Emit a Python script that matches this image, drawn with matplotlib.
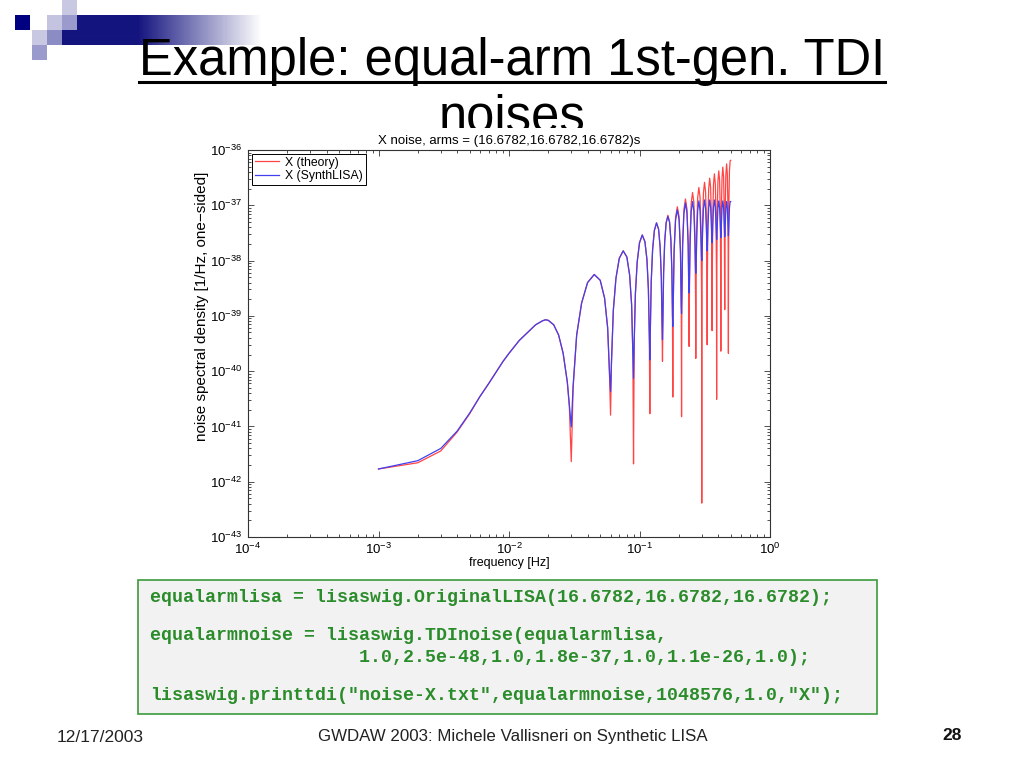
import numpy as np
import matplotlib
matplotlib.use('Agg')
from matplotlib import pyplot as plt
from matplotlib.patches import Rectangle
from matplotlib.lines import Line2D
from matplotlib.colors import LinearSegmentedColormap
from matplotlib.ticker import LogLocator, NullFormatter

plt.rcParams['font.family'] = ['Liberation Sans', 'DejaVu Sans']
plt.rcParams['mathtext.default'] = 'regular'

# values (frequency in Hz, PSD in 1/Hz)
freq_hz = [
    0.001, 0.002, 0.003, 0.004, 0.005, 0.006, 0.007, 0.008, 0.009, 0.010,
    0.012, 0.014, 0.016, 0.018, 0.019, 0.020, 0.022, 0.024, 0.026, 0.028, 0.029, 0.030,
    0.031, 0.033, 0.036, 0.040, 0.045, 0.050, 0.054, 0.057, 0.059, 0.060,
    0.061, 0.063, 0.066, 0.070, 0.075, 0.080, 0.084, 0.087, 0.089, 0.090,
    0.091, 0.093, 0.096, 0.100, 0.105, 0.110, 0.114, 0.117, 0.119, 0.120,
    0.121, 0.123, 0.126, 0.130, 0.135, 0.140, 0.144, 0.147, 0.149, 0.150,
    0.151, 0.153, 0.156, 0.160, 0.165, 0.170, 0.174, 0.177, 0.179, 0.180,
    0.181, 0.184, 0.189, 0.195, 0.201, 0.206, 0.209, 0.210,
    0.211, 0.214, 0.219, 0.225, 0.231, 0.236, 0.239, 0.240,
    0.241, 0.244, 0.249, 0.255, 0.261, 0.266, 0.269, 0.270,
    0.271, 0.274, 0.279, 0.285, 0.291, 0.296, 0.299, 0.300,
    0.301, 0.304, 0.309, 0.315, 0.321, 0.326, 0.329, 0.330,
    0.331, 0.334, 0.339, 0.345, 0.351, 0.356, 0.359, 0.360,
    0.361, 0.364, 0.369, 0.375, 0.381, 0.386, 0.389, 0.390,
    0.391, 0.394, 0.399, 0.405, 0.411, 0.416, 0.419, 0.420,
    0.421, 0.424, 0.429, 0.435, 0.441, 0.446, 0.449, 0.450,
    0.451, 0.454, 0.459, 0.465, 0.471, 0.476, 0.479, 0.480,
    0.481, 0.484, 0.489, 0.495, 0.500,
]

x_theory = [
    1.7e-42, 2.2e-42, 3.6e-42, 7.9e-42, 1.7e-41, 3.5e-41, 6.0e-41, 9.8e-41, 1.5e-40, 2.1e-40,
    3.6e-40, 5.1e-40, 6.9e-40, 8.1e-40, 8.5e-40, 8.3e-40, 6.9e-40, 4.5e-40, 2.1e-40, 6.2e-41, 2.3e-41, 2.3e-42,
    5.0e-41, 4.5e-40, 1.7e-39, 4.0e-39, 5.6e-39, 4.4e-39, 2.1e-39, 6.1e-40, 7.4e-41, 1.6e-41,
    1.4e-40, 1.25e-39, 4.8e-39, 1.1e-38, 1.5e-38, 1.16e-38, 5.5e-39, 1.6e-39, 1.85e-40, 2.1e-42,
    2.8e-40, 2.5e-39, 9.4e-39, 2.1e-38, 2.9e-38, 2.2e-38, 1.05e-38, 3.0e-39, 3.5e-40, 1.7e-41,
    4.8e-40, 4.2e-39, 1.57e-38, 3.5e-38, 4.8e-38, 3.7e-38, 1.74e-38, 4.9e-39, 5.8e-40, 1.5e-40,
    6.5e-40, 5.8e-39, 2.2e-38, 4.85e-38, 6.6e-38, 5.05e-38, 2.37e-38, 6.6e-39, 7.8e-40, 3.4e-41,
    1.0e-39, 1.5e-38, 6.1e-38, 9.4e-38, 6.3e-38, 1.6e-38, 1.1e-39, 1.5e-41,
    1.4e-39, 2.1e-38, 8.4e-38, 1.3e-37, 8.6e-38, 2.2e-38, 1.5e-39, 2.8e-40,
    1.8e-39, 2.7e-38, 1.1e-37, 1.7e-37, 1.13e-37, 2.9e-38, 1.95e-39, 1.7e-40,
    2.2e-39, 3.4e-38, 1.35e-37, 2.1e-37, 1.4e-37, 3.6e-38, 2.4e-39, 4.1e-43,
    2.8e-39, 4.2e-38, 1.68e-37, 2.6e-37, 1.73e-37, 4.4e-38, 2.95e-39, 3.0e-40,
    3.3e-39, 5.0e-38, 2.0e-37, 3.1e-37, 2.05e-37, 5.2e-38, 3.5e-39, 5.4e-40,
    3.9e-39, 6.0e-38, 2.4e-37, 3.7e-37, 2.45e-37, 6.2e-38, 4.2e-39, 3.1e-41,
    4.5e-39, 6.8e-38, 2.7e-37, 4.2e-37, 2.8e-37, 7.1e-38, 4.7e-39, 2.3e-40,
    5.2e-39, 7.9e-38, 3.15e-37, 4.9e-37, 3.25e-37, 8.3e-38, 5.5e-39, 1.3e-39,
    6.0e-39, 9.0e-38, 3.6e-37, 5.6e-37, 3.7e-37, 9.5e-38, 6.3e-39, 2.1e-40,
    6.9e-39, 1.05e-37, 4.2e-37, 6.4e-37, 6.5e-37,
]

x_synthlisa = [
    1.7e-42, 2.4e-42, 4.0e-42, 8.2e-42, 1.75e-41, 3.5e-41, 6.0e-41, 9.8e-41, 1.5e-40, 2.1e-40,
    3.6e-40, 5.1e-40, 6.9e-40, 8.1e-40, 8.5e-40, 8.3e-40, 6.9e-40, 4.5e-40, 2.1e-40, 6.3e-41, 2.5e-41, 9.8e-42,
    5.5e-41, 4.5e-40, 1.7e-39, 4.0e-39, 5.6e-39, 4.4e-39, 2.1e-39, 6.1e-40, 9.0e-41, 4.3e-41,
    1.5e-40, 1.25e-39, 4.8e-39, 1.1e-38, 1.5e-38, 1.16e-38, 5.5e-39, 1.6e-39, 2.0e-40, 7.4e-41,
    3.3e-40, 2.5e-39, 9.4e-39, 2.1e-38, 2.9e-38, 2.2e-38, 1.05e-38, 3.0e-39, 4.2e-40, 1.6e-40,
    5.5e-40, 4.2e-39, 1.57e-38, 3.5e-38, 4.8e-38, 3.7e-38, 1.74e-38, 4.9e-39, 7.0e-40, 3.7e-40,
    8.5e-40, 5.9e-39, 2.2e-38, 4.8e-38, 6.3e-38, 4.9e-38, 2.3e-38, 6.6e-39, 1.0e-39, 6.4e-40,
    1.3e-39, 1.35e-38, 5.4e-38, 8.3e-38, 5.5e-38, 1.4e-38, 1.5e-39, 1.1e-39,
    2.0e-39, 1.8e-38, 7.1e-38, 1.1e-37, 7.3e-38, 1.9e-38, 3.0e-39, 2.6e-39,
    3.5e-39, 1.9e-38, 7.7e-38, 1.17e-37, 7.8e-38, 2.1e-38, 6.5e-39, 5.9e-39,
    7.0e-39, 2.2e-38, 7.9e-38, 1.2e-37, 8.0e-38, 2.3e-38, 1.1e-38, 1.0e-38,
    1.1e-38, 3.1e-38, 8.6e-38, 1.25e-37, 8.8e-38, 3.4e-38, 1.65e-38, 1.5e-38,
    1.7e-38, 3.6e-38, 8.9e-38, 1.25e-37, 9.0e-38, 3.9e-38, 2.3e-38, 2.1e-38,
    2.3e-38, 4.1e-38, 9.1e-38, 1.25e-37, 9.2e-38, 4.3e-38, 2.6e-38, 2.4e-38,
    2.6e-38, 4.2e-38, 8.8e-38, 1.2e-37, 8.9e-38, 4.4e-38, 2.8e-38, 2.6e-38,
    2.8e-38, 4.4e-38, 8.9e-38, 1.2e-37, 9.0e-38, 4.5e-38, 2.9e-38, 2.7e-38,
    2.9e-38, 4.5e-38, 8.8e-38, 1.17e-37, 8.9e-38, 4.6e-38, 3.0e-38, 2.8e-38,
    3.0e-38, 4.6e-38, 8.9e-38, 1.17e-37, 1.17e-37,
]

series_labels = ['X (theory)', 'X (SynthLISA)']

code_lines = [
    'equalarmlisa = lisaswig.OriginalLISA(16.6782,16.6782,16.6782);',
    'equalarmnoise = lisaswig.TDInoise(equalarmlisa,',
    '                   1.0,2.5e-48,1.0,1.8e-37,1.0,1.1e-26,1.0);',
    'lisaswig.printtdi("noise-X.txt",equalarmnoise,1048576,1.0,"X");',
]
code_rows_px = [598, 636, 657, 695]


W, H = 1024, 768
def fx(x):
    return x / W
def fy(y):
    return 1 - y / H

fig = plt.figure(figsize=(10.24, 7.68), dpi=100)
fig.patch.set_facecolor('white')

# slide decoration top-left: navy bar fading out to the right
navy = '#14147f'
bar = fig.add_axes([fx(62), fy(45), fx(200), 30 / H])
cm = LinearSegmentedColormap.from_list('bar', [(0, navy), (0.38, navy), (1, '#ffffff')])
bar.imshow(np.linspace(0, 1, 300)[None, :], aspect='auto', cmap=cm, extent=[0, 1, 0, 1])
bar.axis('off')

squares = [
    (15, 15, '#000080'), (47, 15, '#c4c4e0'), (62, 15, '#9a9acc'), (62, 0, '#c8c8e2'),
    (32, 30, '#c8c8e2'), (47, 30, '#8c8cc4'), (32, 45, '#9a9acc'),
]
for sx, sy, c in squares:
    fig.patches.append(Rectangle((fx(sx), fy(sy + 15)), 15 / W, 15 / H,
                                 transform=fig.transFigure, facecolor=c,
                                 edgecolor='none', zorder=2))

# slide title
t1 = fig.text(0.5, fy(75), 'Example: equal-arm 1st-gen. TDI', ha='center',
              va='baseline', fontsize=36.5, zorder=3)
fig.text(0.5, fy(132), 'noises', ha='center', va='baseline', fontsize=36.5, zorder=3)
fig.canvas.draw()
bb = t1.get_window_extent(fig.canvas.get_renderer())
fig.lines.append(Line2D([bb.x0 / W, bb.x1 / W], [fy(82), fy(82)], color='black',
                        lw=2.2, transform=fig.transFigure, zorder=3))

# white picture area hides the second title line
fig.patches.append(Rectangle((fx(185), fy(576)), 610 / W, (576 - 128) / H,
                             transform=fig.transFigure, facecolor='white',
                             edgecolor='none', zorder=4))

ax = fig.add_axes([fx(248), fy(537), 522 / W, 387 / H])
ax.set_zorder(5)
ax.plot(freq_hz, x_theory, color='#ff4545', lw=0.9, label=series_labels[0])
ax.plot(freq_hz, x_synthlisa, color='#4040f0', lw=0.9, label=series_labels[1])
ax.set_xscale('log')
ax.set_yscale('log')
ax.set_xlim(1e-4, 1)
ax.set_ylim(1e-43, 1e-36)
ax.yaxis.set_major_locator(LogLocator(base=10, numticks=20))
ax.yaxis.set_minor_locator(LogLocator(base=10, subs=np.arange(2, 10), numticks=100))
ax.yaxis.set_minor_formatter(NullFormatter())
ax.xaxis.set_minor_locator(LogLocator(base=10, subs=np.arange(2, 10), numticks=100))
ax.xaxis.set_minor_formatter(NullFormatter())
ax.tick_params(which='both', direction='in', top=True, right=True, labelsize=9.5,
               color='#333333', width=0.6)
ax.tick_params(which='major', length=4)
ax.tick_params(which='minor', length=2)
ax.tick_params(axis='y', pad=4)
for s in ax.spines.values():
    s.set_color('#333333')
    s.set_linewidth(0.8)
ax.set_title('X noise, arms = (16.6782,16.6782,16.6782)s', fontsize=9.5, pad=4)
ax.set_xlabel('frequency [Hz]', fontsize=9, labelpad=0)
ax.set_ylabel('noise spectral density [1/Hz, one\u2212sided]', fontsize=11)
ax.yaxis.set_label_coords((209 - 248) / 522, 0.595)
leg = ax.legend(loc='upper left', fontsize=8.8, fancybox=False, edgecolor='black',
                framealpha=1, handlelength=2.0, borderaxespad=0.3, borderpad=0.25,
                labelspacing=0.1, handletextpad=0.5)
leg.get_frame().set_linewidth(0.7)

# code box
fig.patches.append(Rectangle((fx(138), fy(714)), (877 - 138) / W, (714 - 580) / H,
                             transform=fig.transFigure, facecolor='#f2f2f2',
                             edgecolor='#3c9a3c', lw=1.2, zorder=1))
for line, row in zip(code_lines, code_rows_px):
    fig.text(fx(150), fy(row), line, ha='left', va='center', fontsize=13.15,
             family='Liberation Mono', weight='bold', color='#2a8c2a', zorder=3)

# footer
fig.text(fx(57), fy(738), '12/17/2003', ha='left', va='center', fontsize=12.5, color='#222222')
fig.text(fx(513), fy(736), 'GWDAW 2003: Michele Vallisneri on Synthetic LISA', ha='center',
         va='center', fontsize=12.2, color='#222222')
fig.text(fx(962), fy(736), '28', ha='right', va='center', fontsize=12.5, weight='bold',
         color='#111111')

fig.savefig('out.png', dpi=100)
